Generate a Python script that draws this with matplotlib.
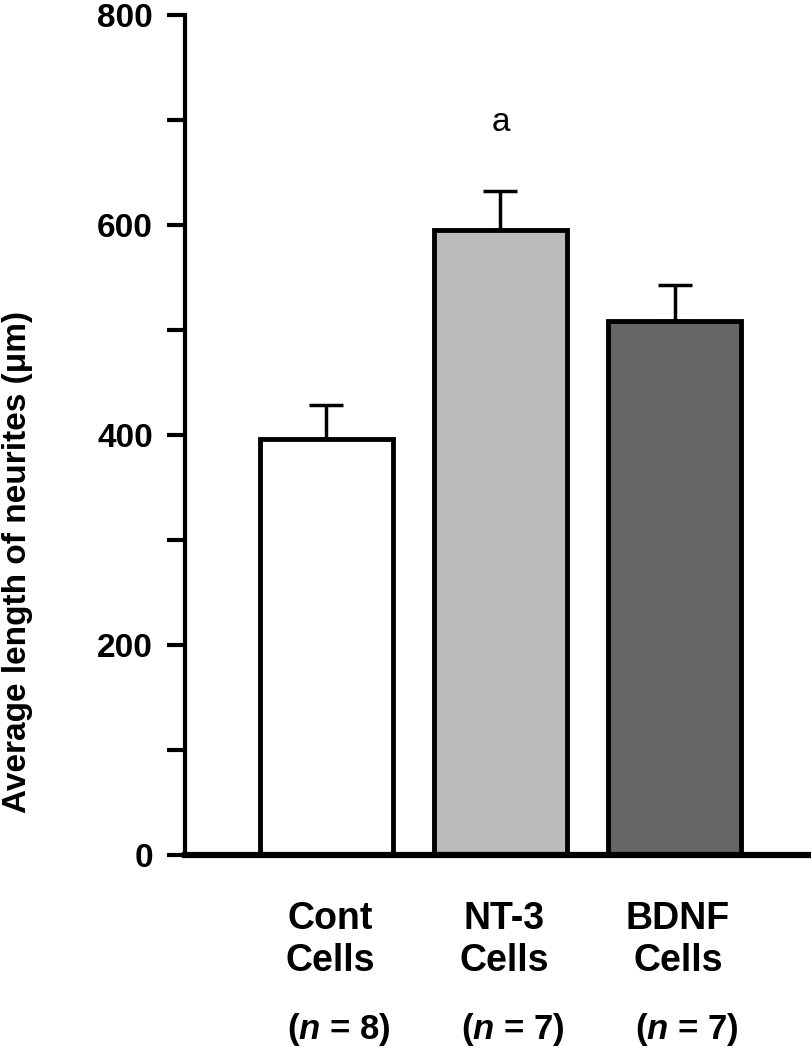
import numpy as np
import matplotlib
matplotlib.use("Agg")
import matplotlib.pyplot as plt
from matplotlib.ticker import MultipleLocator

plt.rcParams["font.family"] = ["Liberation Sans", "DejaVu Sans"]
plt.rcParams["mathtext.fontset"] = "custom"
plt.rcParams["mathtext.rm"] = "Liberation Sans:bold"
plt.rcParams["mathtext.bfit"] = "Liberation Sans:bold:italic"

# data
groups = ["Cont\nCells", "NT-3\nCells", "BDNF\nCells"]
n_labels = [r"($\mathbfit{n}$ = 8)", r"($\mathbfit{n}$ = 7)", r"($\mathbfit{n}$ = 7)"]
means = [396, 595, 509]
sems = [33, 37, 34]
colors = ["#ffffff", "#bbbbbb", "#666666"]
y_ticks = [0, 200, 400, 600, 800]

fig = plt.figure(figsize=(8.11, 10.5), dpi=100)
ax = fig.add_axes([0.228, 0.1857, 0.7683, 0.8])

x = np.arange(len(groups))
ax.bar(x, means, width=0.764, color=colors, edgecolor="black",
       linewidth=3.5, zorder=2)
ax.errorbar(x, means, yerr=[np.zeros(len(sems)), sems], fmt="none",
            ecolor="black", elinewidth=2.5, capsize=12.5, capthick=2.5,
            zorder=1)

ax.text(1, 698, "a", ha="center", va="center", fontsize=24)

ax.set_xlim(-0.813, 2.767)
ax.set_ylim(0, 800)

ax.spines["top"].set_visible(False)
ax.spines["right"].set_visible(False)
ax.spines["left"].set_linewidth(3)
ax.spines["bottom"].set_linewidth(4.5)
ax.spines["bottom"].set_zorder(3)

ax.set_xticks([])
ax.set_yticks(y_ticks)
ax.yaxis.set_minor_locator(MultipleLocator(100))
ax.tick_params(axis="y", which="both", length=13, width=3, pad=10,
               labelsize=24)
for lab in ax.get_yticklabels():
    lab.set_fontweight("bold")

ax.set_ylabel("Average length of neurites (μm)", fontsize=24,
              fontweight="bold")
ax.yaxis.set_label_coords(-0.243, 0.349)

for xi, g, nl in zip(x, groups, n_labels):
    ax.text(xi + 0.02, -81, g, ha="center", va="center", fontsize=27,
            fontweight="bold", linespacing=1.2, clip_on=False)
    ax.text(xi + 0.07, -166, nl, ha="center", va="center", fontsize=25,
            fontweight="bold", clip_on=False)

fig.savefig("out.png", dpi=100)
